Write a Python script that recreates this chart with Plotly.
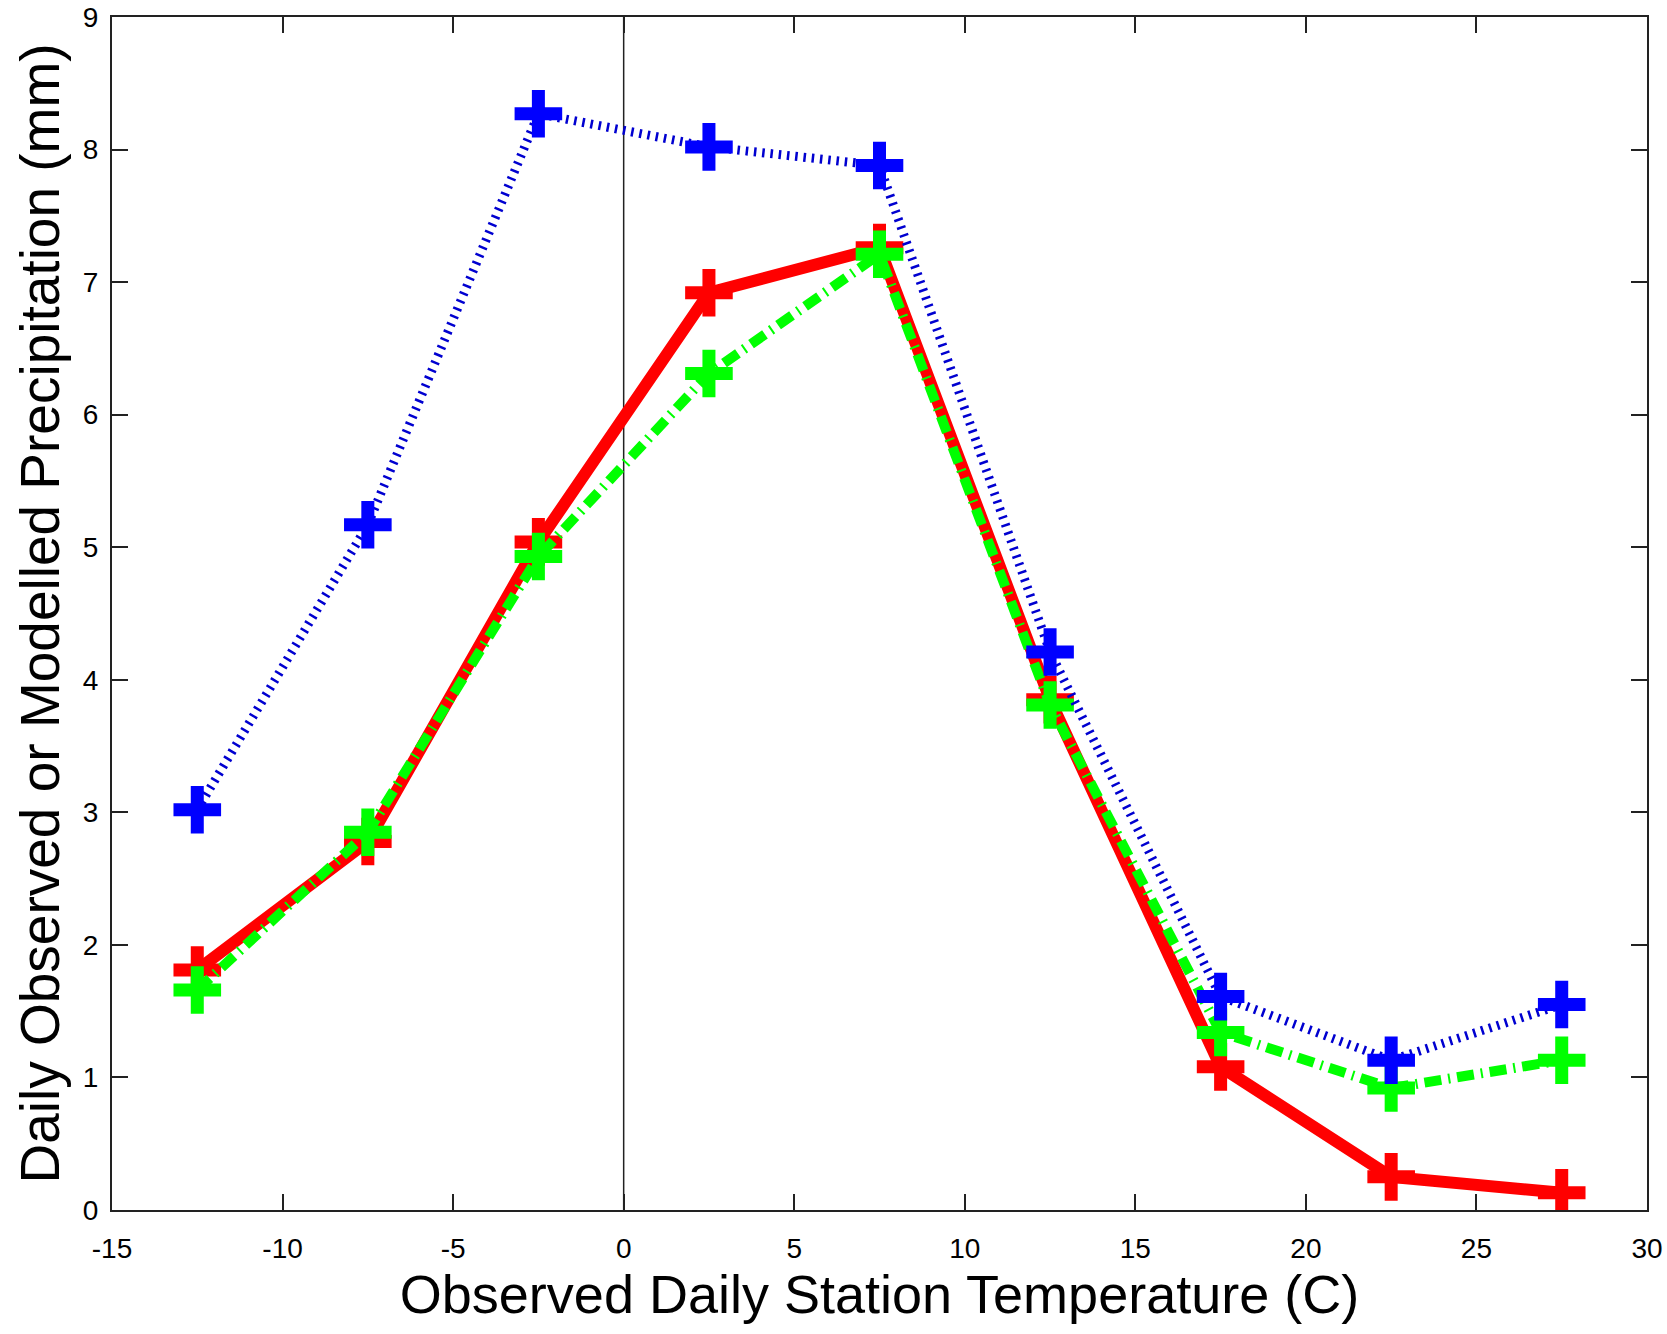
import plotly.graph_objects as go

# Bin centres of observed daily station temperature (C)
temperature = [-12.5, -7.5, -2.5, 2.5, 7.5, 12.5, 17.5, 22.5, 27.5]

# Mean daily precipitation (mm) per temperature bin
precip_blue = [3.02, 5.17, 8.27, 8.02, 7.88, 4.21, 1.61, 1.13, 1.55]
precip_red = [1.81, 2.78, 5.04, 6.92, 7.26, 3.85, 1.08, 0.25, 0.13]
precip_green = [1.66, 2.85, 4.93, 6.31, 7.21, 3.81, 1.34, 0.92, 1.13]

x_ticks = [-15, -10, -5, 0, 5, 10, 15, 20, 25, 30]
y_ticks = [0, 1, 2, 3, 4, 5, 6, 7, 8, 9]

FONT = "Liberation Sans, Arial, Helvetica, sans-serif"


def plus_marker(color):
    return dict(symbol="cross-thin", size=34, color=color,
                line=dict(color=color, width=13))


fig = go.Figure()

fig.add_trace(go.Scatter(
    x=temperature, y=precip_red, mode="lines+markers", name="solid",
    line=dict(color="#ff0000", width=12),
    marker=plus_marker("#ff0000"),
))
fig.add_trace(go.Scatter(
    x=temperature, y=precip_green, mode="lines+markers", name="dashdot",
    line=dict(color="#00ff00", width=10, dash="17px,7px,2px,7px"),
    marker=plus_marker("#00ff00"),
))
fig.add_trace(go.Scatter(
    x=temperature, y=precip_blue, mode="lines+markers", name="dotted",
    line=dict(color="#0000d0", width=9, dash="2.5px,5.8px"),
    marker=plus_marker("#0000ff"),
))

# zero-degree reference line
fig.add_shape(type="line", xref="x", yref="paper", x0=0, x1=0, y0=0, y1=1,
              line=dict(color="#222222", width=1.5), layer="below")

axis_common = dict(
    showgrid=False, zeroline=False, automargin=False,
    showline=True, linecolor="#222222", linewidth=2,
    mirror="ticks", ticks="inside", ticklen=16, tickwidth=2, tickcolor="#222222",
    tickfont=dict(family=FONT, size=28, color="#000000"),
)

fig.update_xaxes(
    range=[-15, 30], tickvals=x_ticks, ticktext=[str(v) for v in x_ticks],
    title=dict(text="Observed Daily Station Temperature (C)",
               font=dict(family=FONT, size=54, color="#000000"), standoff=11),
    ticklabelstandoff=12,
    **axis_common,
)
fig.update_yaxes(
    range=[0, 9], tickvals=y_ticks, ticktext=[str(v) for v in y_ticks],
    title=dict(text="Daily Observed or Modelled Precipitation (mm)",
               font=dict(family=FONT, size=55, color="#000000"), standoff=6),
    ticklabelstandoff=6,
    **axis_common,
)

fig.update_layout(
    width=1667, height=1334,
    margin=dict(l=112, r=20, t=17, b=124),
    paper_bgcolor="#ffffff", plot_bgcolor="#ffffff",
    showlegend=False,
)

fig.write_html("out.html")
